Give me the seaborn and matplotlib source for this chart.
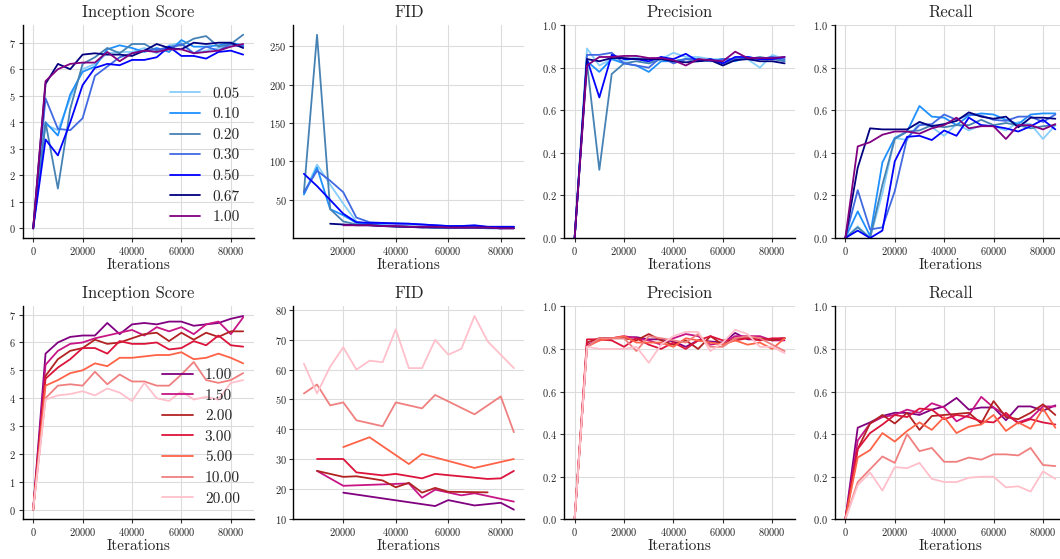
import numpy as np
import pandas as pd
import seaborn as sns
import matplotlib.pyplot as plt

nan = np.nan
iterations = list(range(0, 90000, 5000))

top_labels = ["0.05", "0.10", "0.20", "0.30", "0.50", "0.67", "1.00"]
top_colors = ["lightskyblue", "dodgerblue", "steelblue", "royalblue", "blue", "navy", "purple"]
bottom_labels = ["1.00", "1.50", "2.00", "3.00", "5.00", "10.00", "20.00"]
bottom_colors = ["purple", "mediumvioletred", "firebrick", "crimson", "tomato", "lightcoral", "pink"]

# top row: inception score
top_is = {
    "0.05": [0, 3.9, 3.7, 4.9, 6.0, 6.2, 6.6, 6.65, 6.65, 6.8, 6.6, 6.9, 7.0, 6.6, 6.7, 6.8, 6.9, 6.85],
    "0.10": [0, 4.0, 3.5, 5.05, 5.9, 6.1, 6.75, 6.9, 6.8, 6.65, 6.8, 6.65, 7.1, 6.85, 6.85, 6.9, 7.0, 6.9],
    "0.20": [0, 4.0, 1.5, 4.5, 6.2, 6.45, 6.8, 6.6, 6.95, 6.95, 6.7, 6.85, 6.9, 7.15, 7.25, 6.85, 6.95, 7.3],
    "0.30": [0, 4.9, 3.75, 3.7, 4.15, 5.75, 6.1, 6.45, 6.6, 6.7, 6.75, 6.8, 6.95, 6.6, 6.85, 6.7, 6.95, 6.85],
    "0.50": [0, 3.35, 2.75, 4.0, 5.4, 6.05, 6.2, 6.15, 6.35, 6.35, 6.45, 6.85, 6.5, 6.5, 6.4, 6.65, 6.7, 6.55],
    "0.67": [0, 5.45, 6.2, 6.0, 6.55, 6.6, 6.55, 6.55, 6.5, 6.7, 6.95, 6.8, 6.75, 7.0, 6.95, 7.0, 7.0, 6.8],
    "1.00": [0, 5.55, 6.0, 6.2, 6.25, 6.25, 6.65, 6.3, 6.6, 6.7, 6.65, 6.75, 6.75, 6.6, 6.65, 6.7, 6.85, 6.95],
}

top_fid = {
    "0.05": [nan, 58, 96, 70, 45, 22, 18, 17, 16, 16, 15, 15, 13, 14, 15, 14, 14, 14],
    "0.10": [nan, 57, 92, 38, 30, 20, 18, 17, 16, 15, 15, 14, 14, 14, 14, 13, 13, 14],
    "0.20": [nan, 60, 265, 38, 22, 18, 17, 16, 16, 15, 15, 14, 14, 14, 14, 14, 14, 14],
    "0.30": [nan, 60, 88, 75, 60, 27, 21, 20, 20, 19, 18, 17, 16, 16, 16, 15, 15, 15],
    "0.50": [nan, 84, 68, 50, 32, 21, 20, 20, 19, 19, 18, 17, 16, 16, 17, 15, 15, 15],
    "0.67": [nan, nan, nan, 19, 18, 17, 17, 16, 15, 15, 14, 14, 14, 14, 14, 14, 13, 13],
    "1.00": [nan, nan, nan, nan, 17, 17, 17, 16, 16, 15, 15, 15, 14, 14, 14, 14, 13, 13],
}

top_precision = {
    "0.05": [0, 0.89, 0.81, 0.84, 0.83, 0.85, 0.82, 0.84, 0.87, 0.85, 0.85, 0.84, 0.84, 0.84, 0.84, 0.80, 0.86, 0.84],
    "0.10": [0, 0.83, 0.78, 0.84, 0.82, 0.81, 0.78, 0.83, 0.83, 0.84, 0.84, 0.83, 0.84, 0.83, 0.85, 0.84, 0.85, 0.83],
    "0.20": [0, 0.82, 0.32, 0.77, 0.82, 0.83, 0.82, 0.84, 0.83, 0.84, 0.83, 0.84, 0.82, 0.84, 0.84, 0.85, 0.84, 0.83],
    "0.30": [0, 0.86, 0.86, 0.87, 0.82, 0.81, 0.80, 0.85, 0.82, 0.84, 0.84, 0.83, 0.84, 0.84, 0.84, 0.84, 0.85, 0.84],
    "0.50": [0, 0.84, 0.66, 0.86, 0.84, 0.84, 0.83, 0.85, 0.84, 0.865, 0.83, 0.84, 0.82, 0.85, 0.85, 0.84, 0.84, 0.85],
    "0.67": [0, 0.84, 0.83, 0.845, 0.845, 0.84, 0.84, 0.84, 0.83, 0.825, 0.83, 0.835, 0.81, 0.835, 0.84, 0.83, 0.83, 0.82],
    "1.00": [0, 0.81, 0.85, 0.85, 0.855, 0.855, 0.845, 0.845, 0.835, 0.81, 0.84, 0.835, 0.83, 0.875, 0.845, 0.845, 0.845, 0.85],
}

top_recall = {
    "0.05": [0, 0.055, 0.0, 0.21, 0.47, 0.46, 0.545, 0.52, 0.48, 0.535, 0.505, 0.53, 0.525, 0.505, 0.545, 0.535, 0.465, 0.53],
    "0.10": [0, 0.125, 0.01, 0.355, 0.47, 0.50, 0.62, 0.57, 0.565, 0.53, 0.575, 0.585, 0.58, 0.555, 0.535, 0.58, 0.585, 0.585],
    "0.20": [0, 0.05, 0.0, 0.25, 0.465, 0.50, 0.505, 0.53, 0.52, 0.53, 0.53, 0.555, 0.53, 0.54, 0.53, 0.515, 0.525, 0.53],
    "0.30": [0, 0.225, 0.04, 0.05, 0.22, 0.47, 0.53, 0.535, 0.58, 0.555, 0.58, 0.575, 0.555, 0.55, 0.57, 0.57, 0.545, 0.58],
    "0.50": [0, 0.035, 0.0, 0.035, 0.36, 0.475, 0.48, 0.46, 0.505, 0.48, 0.565, 0.53, 0.525, 0.515, 0.50, 0.525, 0.555, 0.51],
    "0.67": [0, 0.33, 0.515, 0.51, 0.51, 0.51, 0.545, 0.525, 0.535, 0.55, 0.59, 0.57, 0.56, 0.57, 0.52, 0.565, 0.565, 0.56],
    "1.00": [0, 0.43, 0.45, 0.485, 0.50, 0.50, 0.49, 0.515, 0.53, 0.565, 0.515, 0.525, 0.525, 0.465, 0.53, 0.53, 0.51, 0.535],
}

# bottom row
bottom_is = {
    "1.00": [0, 5.6, 6.0, 6.2, 6.25, 6.25, 6.7, 6.3, 6.65, 6.7, 6.65, 6.75, 6.75, 6.6, 6.65, 6.7, 6.85, 6.95],
    "1.50": [0, 5.2, 5.7, 5.95, 6.0, 6.15, 6.25, 6.35, 6.45, 6.25, 6.55, 6.4, 6.55, 6.3, 6.65, 6.75, 6.3, 6.9],
    "2.00": [0, 4.8, 5.4, 5.7, 5.8, 6.1, 5.95, 6.0, 6.15, 6.3, 6.35, 6.05, 6.35, 6.1, 6.35, 6.2, 6.4, 6.4],
    "3.00": [0, 4.7, 5.1, 5.4, 5.8, 5.8, 5.6, 6.05, 5.95, 5.95, 6.0, 5.75, 5.8, 6.05, 5.9, 6.25, 5.9, 5.85],
    "5.00": [0, 4.45, 4.65, 4.9, 5.0, 5.25, 5.15, 5.45, 5.45, 5.5, 5.55, 5.55, 5.65, 5.4, 5.45, 5.6, 5.45, 5.25],
    "10.00": [0, 4.0, 4.45, 4.5, 4.45, 4.95, 4.5, 4.85, 4.6, 4.6, 4.45, 4.45, 4.85, 5.3, 4.65, 4.55, 4.65, 4.9],
    "20.00": [0, 3.95, 4.1, 4.15, 4.25, 4.1, 4.35, 4.2, 3.9, 4.55, 4.0, 3.9, 4.25, 3.95, 4.05, 3.95, 4.55, 4.65],
}

bottom_fid = {
    "1.00": [nan, nan, nan, nan, 18.7, nan, nan, nan, nan, nan, nan, 14.2, 16.2, nan, 14.4, nan, 15.3, 13.0],
    "1.50": [nan, nan, 26, nan, 21, nan, nan, nan, nan, 21.8, 17, 19.7, nan, 17.8, 18.5, nan, nan, 15.7],
    "2.00": [nan, nan, 26, nan, 24, 24.2, nan, 22.8, 20.5, 22, 18.7, 20.3, 19, nan, nan, 18.8, nan, nan],
    "3.00": [nan, nan, 30, nan, 30, 25.5, nan, 24.5, 25, nan, 23.5, 25, nan, nan, nan, 23.3, 23.5, 26],
    "5.00": [nan, nan, nan, nan, 34, nan, 37.3, nan, nan, 28.3, 31.7, nan, nan, nan, 27, nan, nan, 30],
    "10.00": [nan, 52, 55, 48, 49, 43, nan, 41, 49, nan, 47, 51.5, nan, nan, 45, nan, 51, 39],
    "20.00": [nan, 62, 52, 61, 67.5, 60, 63, 62.5, 73.5, 60.5, 60.5, 70, 65, 67, 78, 69.5, nan, 60.5],
}

bottom_precision = {
    "1.00": [0, 0.81, 0.85, 0.85, 0.855, 0.855, 0.845, 0.845, 0.835, 0.81, 0.84, 0.835, 0.83, 0.875, 0.845, 0.845, 0.845, 0.85],
    "1.50": [0, 0.82, 0.84, 0.85, 0.86, 0.85, 0.84, 0.82, 0.85, 0.87, 0.86, 0.82, 0.83, 0.86, 0.86, 0.86, 0.84, 0.84],
    "2.00": [0, 0.83, 0.85, 0.85, 0.85, 0.84, 0.87, 0.84, 0.82, 0.84, 0.80, 0.86, 0.82, 0.85, 0.85, 0.85, 0.84, 0.85],
    "3.00": [0, 0.845, 0.845, 0.84, 0.81, 0.85, 0.82, 0.80, 0.83, 0.80, 0.84, 0.86, 0.84, 0.84, 0.85, 0.84, 0.85, 0.85],
    "5.00": [0, 0.81, 0.84, 0.85, 0.86, 0.83, 0.83, 0.83, 0.81, 0.85, 0.84, 0.83, 0.82, 0.84, 0.82, 0.83, 0.80, 0.85],
    "10.00": [0, 0.81, 0.85, 0.85, 0.85, 0.79, 0.86, 0.85, 0.84, 0.83, 0.87, 0.81, 0.81, 0.85, 0.86, 0.85, 0.82, 0.79],
    "20.00": [0, 0.81, 0.80, 0.80, 0.80, 0.81, 0.735, 0.82, 0.86, 0.88, 0.88, 0.79, 0.83, 0.89, 0.87, 0.81, 0.81, 0.78],
}

bottom_recall = {
    "1.00": [0, 0.43, 0.455, 0.485, 0.50, 0.50, 0.49, 0.515, 0.53, 0.57, 0.515, 0.525, 0.525, 0.465, 0.53, 0.53, 0.51, 0.535],
    "1.50": [0, 0.37, 0.45, 0.48, 0.49, 0.515, 0.50, 0.545, 0.525, 0.46, 0.49, 0.575, 0.525, 0.49, 0.455, 0.475, 0.53, 0.53],
    "2.00": [0, 0.33, 0.45, 0.49, 0.45, 0.50, 0.42, 0.485, 0.49, 0.495, 0.50, 0.45, 0.555, 0.48, 0.47, 0.50, 0.54, 0.49],
    "3.00": [0, 0.33, 0.405, 0.445, 0.49, 0.48, 0.52, 0.515, 0.47, 0.49, 0.48, 0.46, 0.455, 0.50, 0.45, 0.47, 0.455, 0.445],
    "5.00": [0, 0.29, 0.325, 0.405, 0.365, 0.415, 0.455, 0.42, 0.48, 0.405, 0.435, 0.445, 0.49, 0.415, 0.455, 0.425, 0.52, 0.43],
    "10.00": [0, 0.175, 0.235, 0.295, 0.265, 0.40, 0.32, 0.335, 0.27, 0.27, 0.29, 0.28, 0.305, 0.305, 0.30, 0.335, 0.255, 0.25],
    "20.00": [0, 0.16, 0.22, 0.135, 0.245, 0.24, 0.265, 0.19, 0.175, 0.175, 0.195, 0.20, 0.20, 0.15, 0.155, 0.13, 0.225, 0.19],
}

titles = ["Inception Score", "FID", "Precision", "Recall"]

sns.set_style("whitegrid", {"axes.edgecolor": "black", "grid.color": "#dcdcdc",
                            "xtick.bottom": True, "ytick.left": True})
plt.rcParams["font.family"] = "serif"
plt.rcParams["font.serif"] = ["cmr10"]
plt.rcParams["mathtext.fontset"] = "cm"
plt.rcParams["axes.formatter.use_mathtext"] = True


def to_frame(series):
    rows = []
    for label, vals in series.items():
        for it, v in zip(iterations, vals):
            if not np.isnan(v):
                rows.append((it, v, label))
    return pd.DataFrame(rows, columns=["Iterations", "value", "run"])


fig = plt.figure(figsize=(10.6, 5.59), dpi=100)

rows = [
    ([top_is, top_fid, top_precision, top_recall], top_labels, top_colors, 0.5742),
    ([bottom_is, bottom_fid, bottom_precision, bottom_recall], bottom_labels, bottom_colors, 0.0710),
]

for panels, labels, colors, bottom in rows:
    palette = dict(zip(labels, colors))
    for i, series in enumerate(panels):
        ax = fig.add_axes([0.0214 + 0.2554 * i, bottom, 0.2179, 0.381])
        df = to_frame(series)
        sns.lineplot(data=df, x="Iterations", y="value", hue="run", hue_order=labels,
                     palette=palette, estimator=None, errorbar=None, lw=1.3,
                     legend=(i == 0), ax=ax)
        ax.set_title(titles[i], fontsize=12)
        ax.set_xlabel("Iterations", fontsize=11, labelpad=1)
        ax.set_ylabel("")
        ax.tick_params(labelsize=7.5, length=3, width=0.8, color="#333333", pad=2)
        ax.set_xticks([0, 20000, 40000, 60000, 80000] if i != 1 else [20000, 40000, 60000, 80000])
        if i >= 2:
            ax.set_ylim(0, 1)
        for s in ["left", "bottom"]:
            ax.spines[s].set_linewidth(1.0)
        sns.despine(ax=ax)
        if i == 0:
            old = ax.get_legend()
            handles = old.legend_handles
            texts = [t.get_text() for t in old.get_texts()]
            old.remove()
            ax.legend(handles, texts, loc="lower right", frameon=False, fontsize=11,
                      handlelength=2.0, labelspacing=0.45)

fig.savefig("out.png", dpi=100)
